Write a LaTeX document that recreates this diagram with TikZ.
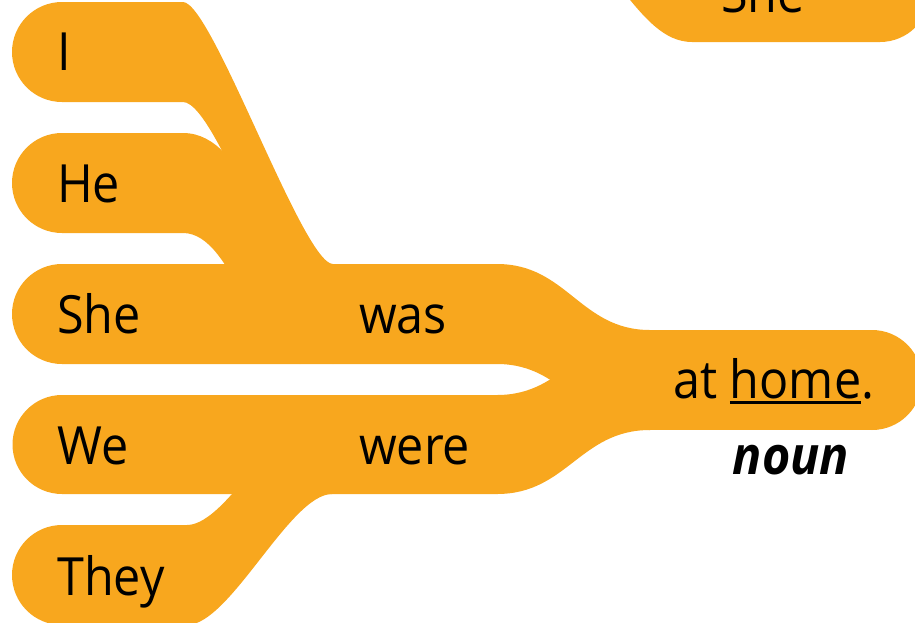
\documentclass[tikz,border=0pt]{standalone}
\usepackage{fontspec}
\setmainfont{Open Sans}[FakeStretch=0.92]
\definecolor{RibbonOrange}{HTML}{F8A71E}
\usepackage{tikz}
\usetikzlibrary{positioning}

\begin{document}
\begin{tikzpicture}[x=1pt, y=-1pt,
    ribbon/.style={fill=RibbonOrange},
    word/.style={font=\fontsize{52.7}{60}\selectfont, anchor=base west, inner sep=0pt},
    tag/.style={font=\fontsize{52.7}{60}\selectfont\bfseries\itshape, anchor=base, inner sep=0pt}]
    \useasboundingbox (0,0) rectangle (915,622);
    \clip (0,0) rectangle (915,622);

    % Top right ribbon (cut off)
    \fill[ribbon] (552,-58) .. controls (612,-58) and (636,42) .. (692,42) -- (880,42) -- (880,-58) -- cycle;
    \fill[ribbon] (880,-8) circle (50pt);

    % I -> was
    \fill[ribbon] (62,2) -- (183,2) .. controls (212,2) and (303,264) .. (333,264) -- (333,364) .. controls (303,364) and (220,102) .. (183,102) -- (62,102) -- cycle;
    \fill[ribbon] (62,52) circle (50pt);

    % He -> was
    \fill[ribbon] (62,133) -- (183,133) .. controls (250,133) and (265,264) .. (320,264) -- (300,364) .. controls (255,364) and (235,233) .. (183,233) -- (62,233) -- cycle;
    \fill[ribbon] (62,183) circle (50pt);

    % She was -> at home
    \fill[ribbon] (62,264) -- (497,264) .. controls (567,264) and (580,330) .. (650,330) -- (650,430) .. controls (580,430) and (567,364) .. (497,364) -- (62,364) -- cycle;
    \fill[ribbon] (62,314) circle (50pt);

    % We were -> at home
    \fill[ribbon] (62,395) -- (497,395) .. controls (567,395) and (580,330) .. (650,330) -- (650,430) .. controls (580,430) and (567,494) .. (497,494) -- (62,494) -- cycle;
    \fill[ribbon] (62,444.5) circle (49.5pt);

    % They -> were
    \fill[ribbon] (62,525) -- (187,525) .. controls (230,525) and (290,395) .. (332,395) -- (332,494) .. controls (290,494) and (230,625) .. (187,625) -- (62,625) -- cycle;
    \fill[ribbon] (62,575) circle (50pt);

    % at home
    \fill[ribbon] (640,330) rectangle (872,430);
    \fill[ribbon] (872,380) circle (50pt);

    % Words
    \node[tag, font=\fontsize{52.7}{60}\selectfont] (topshe) at (763,12) {She};
    \node[word] (i) at (57,70) {I};
    \node[word] (he) at (57,202) {He};
    \node[word] (she) at (57,333) {She};
    \node[word] (was) at (359,333) {was};
    \node[word] (we) at (57,464) {We};
    \node[word] (were) at (359,464) {were};
    \node[word] (they) at (57,595) {They};
    \node[word] (athome) at (673,398) {at \setbox0\hbox{home}\rlap{\rule[-6pt]{\wd0}{3pt}}\box0.};
    \node[tag] (noun) at (791,474) {noun};
\end{tikzpicture}
\end{document}
